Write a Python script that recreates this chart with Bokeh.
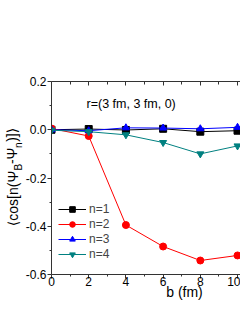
from bokeh.plotting import figure
from bokeh.models import (Range1d, LinearAxis, FixedTicker, PrintfTickFormatter, Label, Legend,
                          LegendItem, CustomJSTickFormatter)
from bokeh.embed import file_html
from bokeh.resources import INLINE

# ---- data ----
b = [0, 2, 4, 6, 8, 10]
n1 = [0.0, 0.003, -0.001, 0.004, -0.008, -0.004]
n2 = [0.005, -0.026, -0.395, -0.484, -0.542, -0.521]
n3 = [0.0, -0.004, 0.008, 0.007, 0.004, 0.010]
n4 = [-0.002, -0.008, -0.021, -0.053, -0.100, -0.067]
series = [n1, n2, n3, n4]
names = ["n=1", "n=2", "n=3", "n=4"]
colors = ["black", "#ff0000", "#0000ff", "#008080"]
markers = ["square", "circle", "triangle", "inverted_triangle"]
x_ticks = [0, 2, 4, 6, 8, 10]
x_minor = [1, 3, 5, 7, 9]
y_ticks = [-0.6, -0.4, -0.2, 0.0, 0.2]
y_minor = [-0.5, -0.3, -0.1, 0.1]
note = "r=(3 fm, 3 fm, 0)"
xlabel = "b (fm)"
ylabel_main = ["\u27e8cos[n(\u03a8", "-\u03a8", ")]\u27e9"]
ylabel_sub = ["B", "n"]

FONT = "Liberation Sans"
FONTS = "Liberation Sans, DejaVu Sans"

# layout (page pixels; canvas starts at page 0,0)
W, H = 240, 310
BL, BT, BB = 51, 81, 36
X0, X1 = 0, 10.16
Y0, Y1 = -0.6, 0.2
FL, FT, FB = BL, BT, H - BB
FW = W - BL


def sx(px):  # page x -> frame-relative screen x
    return px - FL


def sy(py):  # page y -> frame-relative screen y
    return FB - py


def px2x(px):
    return X0 + (px - FL) / FW * (X1 - X0)


def py2y(py):
    return Y1 - (py - FT) / (FB - FT) * (Y1 - Y0)


p = figure(width=W, height=H, output_backend="svg", toolbar_location=None,
           x_range=Range1d(X0, X1), y_range=Range1d(Y0, Y1),
           min_border_left=BL, min_border_right=0, min_border_top=BT, min_border_bottom=BB)
p.grid.visible = False
p.outline_line_color = None
p.background_fill_color = "white"
p.border_fill_color = "white"

xa = p.xaxis[0]
xa.ticker = FixedTicker(ticks=x_ticks, minor_ticks=x_minor)
ya = p.yaxis[0]
ya.ticker = FixedTicker(ticks=y_ticks, minor_ticks=y_minor)
ya.formatter = PrintfTickFormatter(format="%.1f")
for ax in (xa, ya):
    ax.axis_line_color = "#333333"
    ax.major_tick_line_color = "#333333"
    ax.minor_tick_line_color = "#333333"
    ax.major_tick_in = 0
    ax.major_tick_out = 4
    ax.minor_tick_in = 0
    ax.minor_tick_out = 2
    ax.major_label_text_font = FONT
    ax.major_label_text_font_size = "12px"
    ax.major_label_text_color = "black"
xa.major_label_standoff = -2
ya.major_label_standoff = 1

top = LinearAxis(ticker=FixedTicker(ticks=x_ticks, minor_ticks=x_minor),
                 formatter=CustomJSTickFormatter(code="return ''"),
                 axis_line_color="#333333", major_tick_line_color="#333333",
                 minor_tick_line_color="#333333",
                 major_tick_in=4, major_tick_out=0, minor_tick_in=3, minor_tick_out=0,
                 major_label_standoff=0)
p.add_layout(top, "above")


def text_axis(positions, labels, size, standoff, orient):
    ax = LinearAxis(ticker=FixedTicker(ticks=positions, minor_ticks=[]),
                    major_label_overrides=dict(zip(positions, labels)),
                    axis_line_color=None, major_tick_line_color=None,
                    minor_tick_line_color=None, major_tick_in=0, major_tick_out=0,
                    minor_tick_in=0, minor_tick_out=0, major_label_standoff=standoff,
                    major_label_orientation=orient, major_label_text_font=FONTS,
                    major_label_text_font_size=size, major_label_text_color="black")
    return ax


# x-axis title (placed as a single label below the tick labels)
p.add_layout(text_axis([px2x(184)], [xlabel], "14px", -5, "horizontal"), "below")
# y-axis title with subscripts: subscripts nearest the axis, main text further out
p.add_layout(text_axis([py2y(166.6), py2y(144.6)], ylabel_sub, "10px", -2, "parallel"), "left")
p.add_layout(text_axis([py2y(198.0), py2y(155.4), py2y(134.3)], ylabel_main, "14px", -10,
                       "parallel"), "left")

items = []
for ys, nm, c, m in zip(series, names, colors, markers):
    r1 = p.line(b, ys, line_color=c, line_width=1)
    r2 = p.scatter(b, ys, marker=m, size=7, fill_color=c, line_color=c)
    items.append(LegendItem(label=nm, renderers=[r1, r2]))

legend = Legend(items=items, location=(7, 13), label_text_font=FONT,
                label_text_font_size="12px", glyph_width=28, glyph_height=14,
                label_height=14, spacing=1, padding=0, margin=0, label_standoff=3,
                border_line_color=None, background_fill_alpha=0)
p.add_layout(legend)

p.add_layout(Label(x=sx(86), y=sy(110), x_units="screen", y_units="screen", text=note,
                   text_font=FONT, text_font_size="12.5px", text_color="black"))

open("out.html", "w").write(file_html(p, INLINE))
